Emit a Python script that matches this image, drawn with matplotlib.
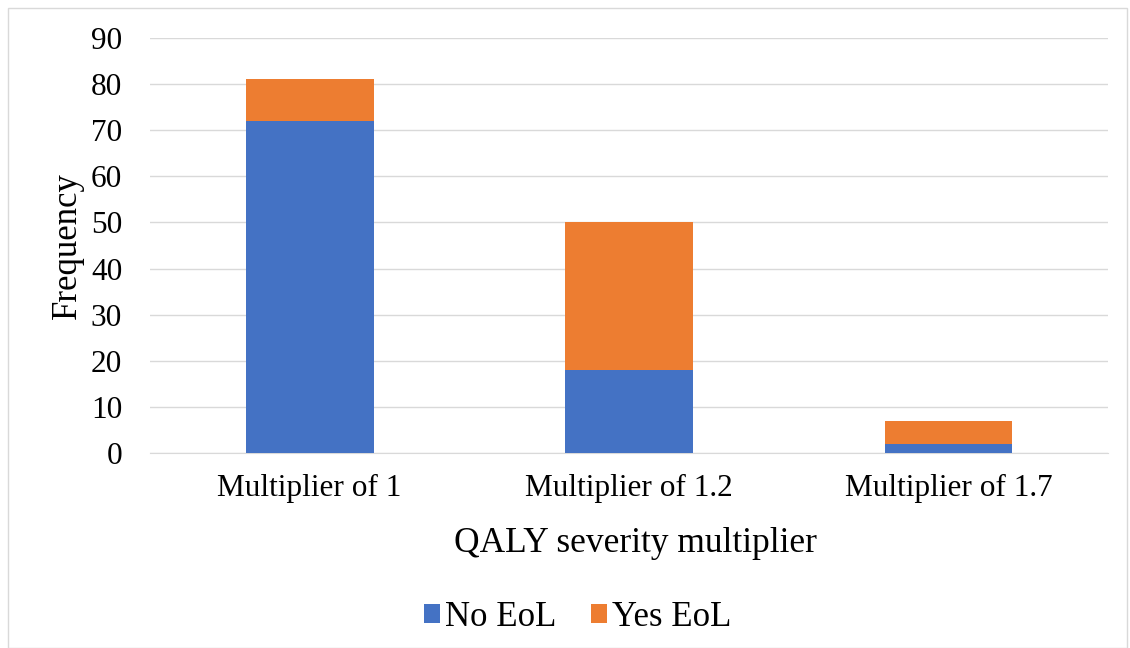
import numpy as np
import matplotlib.pyplot as plt
from matplotlib.patches import Rectangle

categories = ['Multiplier of 1', 'Multiplier of 1.2', 'Multiplier of 1.7']
no_eol = [72, 18, 2]
yes_eol = [9, 32, 5]

plt.rcParams['font.family'] = ['Liberation Serif', 'DejaVu Serif']

fig = plt.figure(figsize=(11.3, 6.48), dpi=100)
ax = fig.add_axes([0.1327, 0.301, 0.848, 0.6404])

x = np.arange(len(categories))
ax.bar(x, no_eol, width=0.4, color='#4472C4', label='No EoL', zorder=3)
ax.bar(x, yes_eol, width=0.4, bottom=no_eol, color='#ED7D31', label='Yes EoL', zorder=3)

ax.set_xlim(-0.5, len(categories) - 0.5)
ax.set_ylim(0, 90)
ax.set_yticks(range(0, 91, 10))
ax.set_xticks(x)
ax.set_xticklabels(categories, fontsize=22.5)
ax.tick_params(axis='y', labelsize=22.5, length=0, pad=20)
ax.tick_params(axis='x', length=0, pad=15)
ax.grid(axis='y', color='#d9d9d9', linewidth=1, zorder=0)

for side in ['top', 'right', 'left']:
    ax.spines[side].set_visible(False)
ax.spines['bottom'].set_color('#d9d9d9')

# axis titles placed in figure coordinates
fig.text(67 / 1130, 1 - 246 / 648, 'Frequency', rotation=90,
         ha='center', va='center', fontsize=25)
fig.text(636 / 1130, 1 - 543 / 648, 'QALY severity multiplier',
         ha='center', va='center', fontsize=25.5)

fig.legend(loc='center', bbox_to_anchor=(578 / 1130, 0.047), ncol=2, frameon=False,
           fontsize=25, handlelength=0.45, handleheight=0.45,
           handletextpad=0.15, columnspacing=1.0)

# light frame around the chart area
fig.patches.append(Rectangle((0.007, 0.0), 0.99, 0.987, transform=fig.transFigure,
                             fill=False, edgecolor='#d9d9d9', linewidth=1))

fig.savefig('out.png', dpi=100)
